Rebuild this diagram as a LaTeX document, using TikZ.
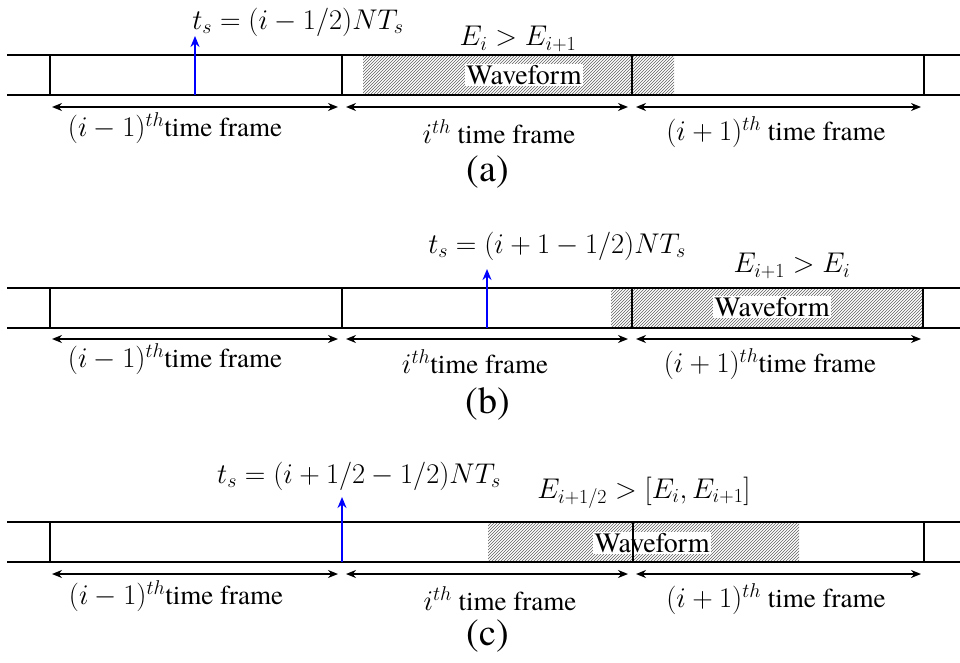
\RequirePackage{fix-cm}
\documentclass[tikz,border=0pt]{standalone}
\usepackage{fontspec}
\setmainfont{texgyretermes}[Extension=.otf,UprightFont=*-regular,ItalicFont=*-italic,BoldFont=*-bold,BoldItalicFont=*-bolditalic]
\usetikzlibrary{arrows.meta,patterns}
\newcommand{\mm}[1]{{\fontsize{28.5}{32}\selectfont$#1$}}
\begin{document}
\begin{tikzpicture}[x=1pt,y=-1pt,
  rail/.style={line width=2.4pt},
  divider/.style={line width=2.2pt},
  thindiv/.style={line width=1.4pt},
  tsarrow/.style={draw=blue,line width=2.8pt,-{Stealth[length=11pt,width=9pt]}},
  dim/.style={line width=1.6pt,{Stealth[length=10pt,width=8pt]}-{Stealth[length=10pt,width=8pt]}},
  hatch/.style={pattern=north east lines,pattern color=gray!75!black},
  wave/.style={fill=white,inner sep=1pt,font=\fontsize{28}{30}\selectfont},
  lbl/.style={inner sep=0pt,font=\fontsize{27}{30}\selectfont},
  mlbl/.style={inner sep=0pt,font=\fontsize{28.5}{32}\selectfont},
  panelcap/.style={inner sep=0pt,font=\fontsize{38}{40}\selectfont}]
\useasboundingbox (0,0) rectangle (960,663);

%%%%%%%%%%%%%%%% panel (a)
\fill[hatch] (363,55) rectangle (674,95);
\coordinate (aLs) at (7,55);  \coordinate (aRs) at (960,55);
\coordinate (aLb) at (7,95);  \coordinate (aRb) at (960,95);
\draw[rail] (aLs) -- (aRs);
\draw[rail] (aLb) -- (aRb);
\foreach \x/\n in {50/0,342/1,632/2,924/3}{
  \coordinate (at\n) at (\x,55); \coordinate (ab\n) at (\x,95);
  \draw[divider] (at\n) -- (ab\n);}
\node[wave] (awave) at (524,75) {Waveform};
\coordinate (aarB) at (195,95); \coordinate (aarT) at (195,36);
\draw[tsarrow] (aarB) -- (aarT);
\node[mlbl] (ats) at (298,22) {$t_s=(i-1/2)NT_s$};
\node[mlbl] (aE) at (518,39) {$E_i>E_{i+1}$};
\coordinate (ad1) at (52,107);  \coordinate (ad2) at (338,107);
\coordinate (ad3) at (346,107); \coordinate (ad4) at (628,107);
\coordinate (ad5) at (636,107); \coordinate (ad6) at (921,107);
\draw[dim] (ad1) -- (ad2);
\draw[dim] (ad3) -- (ad4);
\draw[dim] (ad5) -- (ad6);
\node[lbl] (al1) at (175,128) {\mm{(i-1)^{th}}time frame};
\node[lbl] (al2) at (499,132) {\mm{i^{th}} time frame};
\node[lbl] (al3) at (776,132) {\mm{(i+1)^{th}} time frame};
\node[panelcap] (acap) at (488,172) {(a)};

%%%%%%%%%%%%%%%% panel (b)
\fill[hatch] (611,288) rectangle (923,328);
\coordinate (bLs) at (7,288);  \coordinate (bRs) at (960,288);
\coordinate (bLb) at (7,328);  \coordinate (bRb) at (960,328);
\draw[rail] (bLs) -- (bRs);
\draw[rail] (bLb) -- (bRb);
\foreach \x/\n in {50/0,342/1,632/2,923/3}{
  \coordinate (bt\n) at (\x,288); \coordinate (bb\n) at (\x,328);
  \draw[divider] (bt\n) -- (bb\n);}
\node[wave] (bwave) at (772,307) {Waveform};
\coordinate (barB) at (487,328); \coordinate (barT) at (487,269);
\draw[tsarrow] (barB) -- (barT);
\node[mlbl] (bts) at (557,246) {$t_s=(i+1-1/2)NT_s$};
\node[mlbl] (bE) at (792,266) {$E_{i+1}>E_i$};
\coordinate (bd1) at (52,339);  \coordinate (bd2) at (338,339);
\coordinate (bd3) at (346,339); \coordinate (bd4) at (628,339);
\coordinate (bd5) at (636,339); \coordinate (bd6) at (921,339);
\draw[dim] (bd1) -- (bd2);
\draw[dim] (bd3) -- (bd4);
\draw[dim] (bd5) -- (bd6);
\node[lbl] (bl1) at (175,359) {\mm{(i-1)^{th}}time frame};
\node[lbl] (bl2) at (475,362) {\mm{i^{th}}time frame};
\node[lbl] (bl3) at (770,364) {\mm{(i+1)^{th}}time frame};
\node[panelcap] (bcap) at (488,404) {(b)};

%%%%%%%%%%%%%%%% panel (c)
\fill[hatch] (488,522) rectangle (799,562);
\coordinate (cLs) at (7,522);  \coordinate (cRs) at (960,522);
\coordinate (cLb) at (7,562);  \coordinate (cRb) at (960,562);
\draw[rail] (cLs) -- (cRs);
\draw[rail] (cLb) -- (cRb);
\foreach \x/\n in {50/0,924/3}{
  \coordinate (ct\n) at (\x,522); \coordinate (cb\n) at (\x,562);
  \draw[divider] (ct\n) -- (cb\n);}
\node[wave] (cwave) at (652,543) {Waveform};
\coordinate (ct2) at (633,522); \coordinate (cb2) at (633,562);
\draw[thindiv] (ct2) -- (cb2);
\coordinate (carB) at (342,562); \coordinate (carT) at (342,497);
\draw[tsarrow] (carB) -- (carT);
\node[mlbl] (cts) at (359,476) {$t_s=(i+1/2-1/2)NT_s$};
\node[mlbl] (cE) at (644,493) {$E_{i+1/2}>[E_i,E_{i+1}]$};
\coordinate (cd1) at (52,574);  \coordinate (cd2) at (338,574);
\coordinate (cd3) at (346,574); \coordinate (cd4) at (628,574);
\coordinate (cd5) at (636,574); \coordinate (cd6) at (921,574);
\draw[dim] (cd1) -- (cd2);
\draw[dim] (cd3) -- (cd4);
\draw[dim] (cd5) -- (cd6);
\node[lbl] (cl1) at (176,596) {\mm{(i-1)^{th}}time frame};
\node[lbl] (cl2) at (500,599) {\mm{i^{th}} time frame};
\node[lbl] (cl3) at (776,599) {\mm{(i+1)^{th}} time frame};
\node[panelcap] (ccap) at (488,636) {(c)};
\end{tikzpicture}
\end{document}
